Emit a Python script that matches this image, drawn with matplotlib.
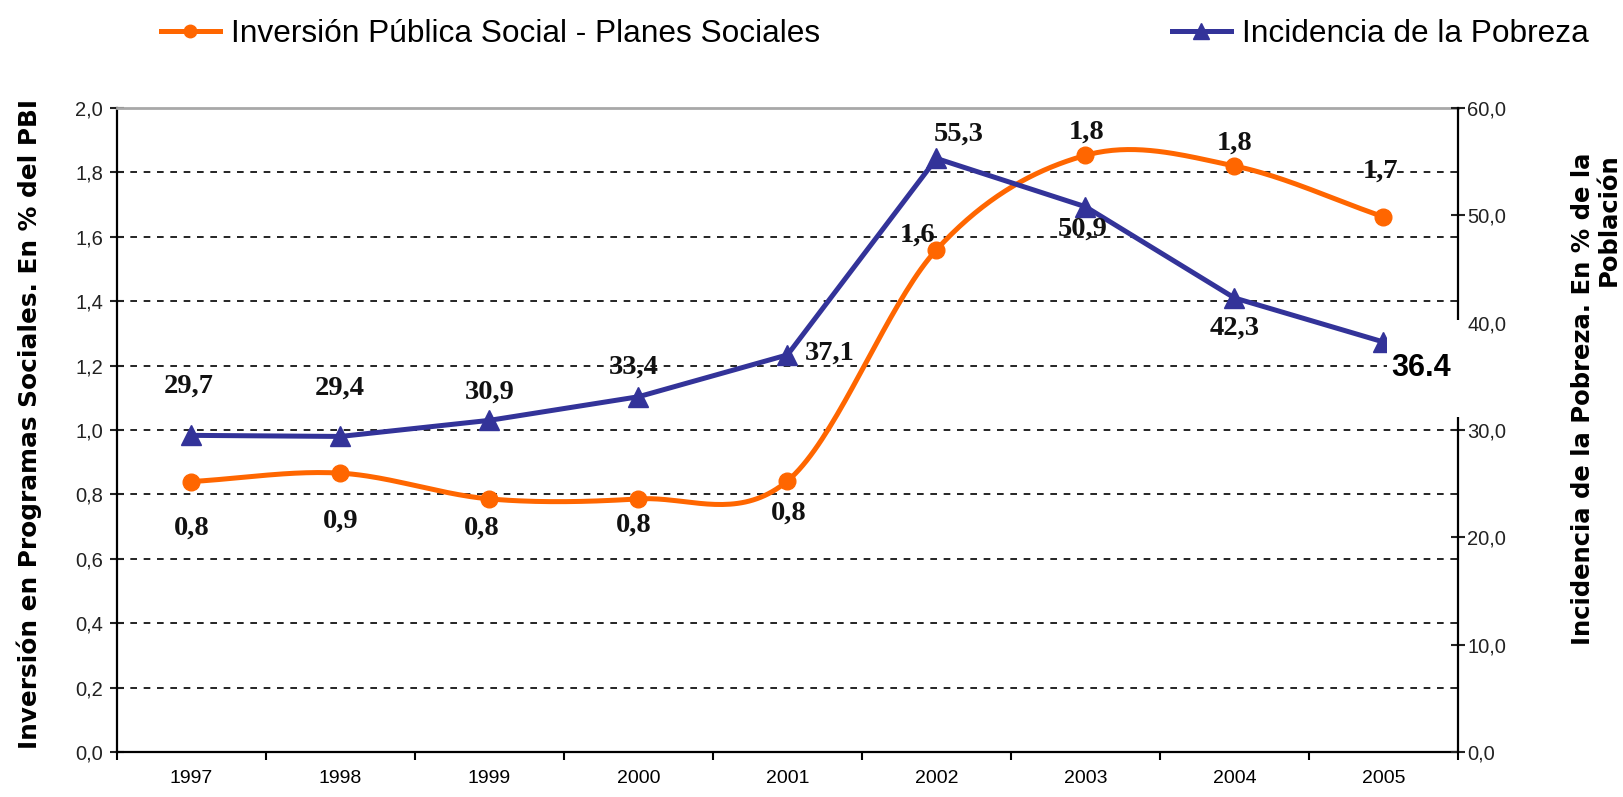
import numpy as np
import matplotlib
matplotlib.use('Agg')
import matplotlib.pyplot as plt
from matplotlib.lines import Line2D
from matplotlib.patches import Rectangle
from matplotlib.ticker import FixedLocator, FuncFormatter, NullFormatter

# ---------------- data ----------------
years = ['1997', '1998', '1999', '2000', '2001', '2002', '2003', '2004', '2005']
inversion = [0.84, 0.866, 0.786, 0.786, 0.842, 1.56, 1.853, 1.82, 1.662]
pobreza = [29.5, 29.4, 30.9, 33.1, 37.0, 55.3, 50.8, 42.3, 38.2]
inversion_labels = ['0,8', '0,9', '0,8', '0,8', '0,8', '1,6', '1,8', '1,8', '1,7']
pobreza_labels = ['29,7', '29,4', '30,9', '33,4', '37,1', '55,3', '50,9', '42,3', '']
boxed_label = '36.4'
legend_labels = ['Inversión Pública Social - Planes Sociales', 'Incidencia de la Pobreza']
left_title = 'Inversión en Programas Sociales. En % del PBI'
right_title = 'Incidencia de la Pobreza. En % de la\nPoblación'
left_ticks = [0.0, 0.2, 0.4, 0.6, 0.8, 1.0, 1.2, 1.4, 1.6, 1.8, 2.0]
right_ticks = [0, 10, 20, 30, 40, 50, 60]

# label offsets in pixels (dx, dy up)
inv_off = [(0, -47), (0, -48), (-8, -29), (-5, -26), (1, -32), (-19, 15), (1, 23), (0, 23), (-3, 46)]
pob_off = [(-3, 49), (-1, 48), (0, 28), (-5, 30), (42, 2), (22, 24), (-3, -22), (0, -30), (0, 0)]

ORANGE = '#FF6600'
BLUE = '#333399'
SANS = ['Liberation Sans', 'DejaVu Sans']


def smooth(xs, ys, n=40):
    xs = np.asarray(xs, float)
    ys = np.asarray(ys, float)
    m = len(xs)
    mx = np.zeros(m)
    my = np.zeros(m)
    for i in range(m):
        a = max(i - 1, 0)
        b = min(i + 1, m - 1)
        mx[i] = (xs[b] - xs[a]) / (b - a)
        my[i] = (ys[b] - ys[a]) / (b - a)
    ox, oy = [], []
    t = np.linspace(0, 1, n)
    h00 = 2 * t**3 - 3 * t**2 + 1
    h10 = t**3 - 2 * t**2 + t
    h01 = -2 * t**3 + 3 * t**2
    h11 = t**3 - t**2
    for i in range(m - 1):
        ox.append(h00 * xs[i] + h10 * mx[i] + h01 * xs[i + 1] + h11 * mx[i + 1])
        oy.append(h00 * ys[i] + h10 * my[i] + h01 * ys[i + 1] + h11 * my[i + 1])
    return np.concatenate(ox), np.concatenate(oy)


W, H = 1624, 797
fig = plt.figure(figsize=(W / 100, H / 100), dpi=100)
fig.patch.set_facecolor('white')
L, R, T, B = 117, 1458, 108, 752
ax = fig.add_axes([L / W, 1 - B / H, (R - L) / W, (B - T) / H])
ax2 = ax.twinx()

x = np.arange(len(years))
ax.set_xlim(-0.5, len(years) - 0.5)
ax.set_ylim(left_ticks[0], left_ticks[-1])
ax2.set_ylim(right_ticks[0], right_ticks[-1])

# grid
for v in left_ticks[1:-1]:
    ax.axhline(v, color='black', lw=1.2, ls=(0, (4, 4)), zorder=1)

# orange smoothed line
sx, sy = smooth(x, inversion)
ax.plot(sx, sy, color=ORANGE, lw=3.6, zorder=3, solid_capstyle='round')
ax.plot(x, inversion, ls='none', marker='o', ms=12, color=ORANGE, zorder=4)

# blue line
ax2.plot(x, pobreza, color=BLUE, lw=3.6, marker='^', ms=15, zorder=3)

# labels
lab_font = dict(family=['Liberation Serif', 'DejaVu Serif'], weight='bold', size=20.5, color='#111111')
for xi, yi, lab, (dx, dy) in zip(x, inversion, inversion_labels, inv_off):
    ax2.annotate(lab, (xi, yi), xycoords=ax.transData, xytext=(dx * 0.72, dy * 0.72),
                 textcoords='offset points', ha='center', va='center', zorder=6, **lab_font)
for xi, yi, lab, (dx, dy) in zip(x, pobreza, pobreza_labels, pob_off):
    if lab:
        ax2.annotate(lab, (xi, yi), xytext=(dx * 0.72, dy * 0.72),
                     textcoords='offset points', ha='center', va='center', zorder=6, **lab_font)

# x axis ticks
ax.xaxis.set_major_locator(FixedLocator(np.arange(-0.5, len(years), 1.0)))
ax.xaxis.set_major_formatter(NullFormatter())
ax.xaxis.set_minor_locator(FixedLocator(x))
ax.set_xticklabels(years, minor=True)
ax.tick_params(axis='x', which='major', direction='out', length=6, width=1.5, color='black')
ax.tick_params(axis='x', which='minor', length=0, pad=13, labelsize=14)
for t in ax.get_xticklabels(minor=True):
    t.set_family(SANS)

# y axes ticks
fmt1 = FuncFormatter(lambda v, p: f'{v:.1f}'.replace('.', ','))
ax.yaxis.set_major_locator(FixedLocator(left_ticks))
ax.yaxis.set_major_formatter(fmt1)
ax.tick_params(axis='y', direction='inout', length=10, width=1.5, pad=5, labelsize=14.5, colors='#222222')
ax2.yaxis.set_major_locator(FixedLocator(right_ticks))
ax2.yaxis.set_major_formatter(fmt1)
ax2.tick_params(axis='y', direction='inout', length=10, width=1.5, pad=1.5, labelsize=14.5, colors='#222222')
for t in ax.get_yticklabels() + ax2.get_yticklabels():
    t.set_family(SANS)

# spines
ax.spines['right'].set_visible(False)
ax.spines['left'].set_linewidth(1.6)
ax.spines['bottom'].set_linewidth(1.6)
ax.spines['top'].set_color('#A8A8A8')
ax.spines['top'].set_linewidth(2)
for s in ['left', 'top', 'bottom']:
    ax2.spines[s].set_visible(False)
ax2.spines['right'].set_linewidth(1.6)

# axis titles
fig.text(29 / W, 1 - 424 / H, left_title, rotation=90, ha='center', va='center',
         fontsize=17.8, fontweight='bold', family=['DejaVu Sans'])
fig.text(1596 / W, 1 - 399 / H, right_title, rotation=90, ha='center', va='center',
         multialignment='right', fontsize=17.5, fontweight='bold',
         family=['DejaVu Sans'], linespacing=1.1)

# white box with 36.4
fig.patches.append(Rectangle((1387 / W, 1 - 417 / H), 78 / W, 97 / H, transform=fig.transFigure,
                             facecolor='white', edgecolor='none', zorder=5))
fig.text(1421 / W, 1 - 368 / H, boxed_label, ha='center', va='center', fontsize=22,
         fontweight='bold', family=SANS, zorder=6)

# legends
h1 = Line2D([], [], color=ORANGE, lw=3.6, marker='o', ms=9)
h2 = Line2D([], [], color=BLUE, lw=3.6, marker='^', ms=12)
leg_kw = dict(frameon=False, borderpad=0, borderaxespad=0, handlelength=1.85, handletextpad=0.35,
              prop={'family': SANS, 'size': 22.8})
lg1 = fig.legend([h1], [legend_labels[0]], loc='center left', bbox_to_anchor=(161 / W, 1 - 34 / H), **leg_kw)
lg2 = fig.legend([h2], [legend_labels[1]], loc='center left', bbox_to_anchor=(1172 / W, 1 - 34 / H), **leg_kw)

fig.savefig('out.png', dpi=100, facecolor='white')
